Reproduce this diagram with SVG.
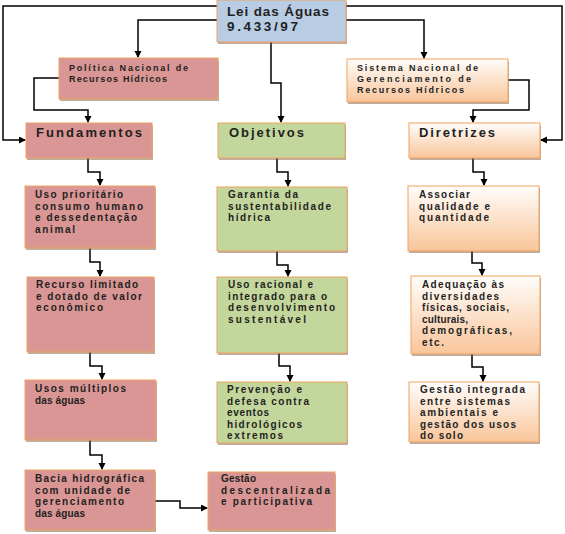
<svg xmlns="http://www.w3.org/2000/svg" width="565" height="534" viewBox="0 0 565 534">
<defs>
<linearGradient id="peach" x1="0" y1="0" x2="0" y2="1">
<stop offset="0" stop-color="#fffdfb"/>
<stop offset="1" stop-color="#f9c59a"/>
</linearGradient>
<marker id="ah" markerUnits="userSpaceOnUse" markerWidth="8" markerHeight="8" refX="6" refY="3.5" orient="auto">
<path d="M0,0 L7,3.5 L0,7 z" fill="#000"/>
</marker>
<style>
.box{stroke:#eea460;stroke-width:1}
.sh{fill:#7a5a4a;opacity:0.5}
.pink{fill:#d99694}
.green{fill:#c3d69b}
.blue{fill:#b8cce4}
.peach{fill:url(#peach)}
text{font-family:"Liberation Sans",Arial,sans-serif;font-weight:700;fill:#231f1f}
.t{font-size:10px}
.s{font-size:9px}
.h{font-size:13px}
.c path{fill:none;stroke:#000;stroke-width:1.5;marker-end:url(#ah)}
</style>
</defs>
<rect width="565" height="534" fill="#fff"/>

<g class="c" id="connectors">
<path d="M217,6 H3 V140 H25"/>
<path d="M217,20 H138 V57"/>
<path d="M59,78 H34 V110 H88 V122"/>
<path d="M271,42 V83 H281 V122"/>
<path d="M346,20 H424 V58"/>
<path d="M346,6 H562 V140 H541"/>
<path d="M508,80 H529 V110 H473 V122"/>
<path d="M88,158 V172 H100 V185"/>
<path d="M90,248 V262 H100 V276"/>
<path d="M90,352 V366 H102 V379"/>
<path d="M90,440 V455 H102 V469"/>
<path d="M155,501 H180 V508 H207"/>
<path d="M277,158 V172 H288 V186"/>
<path d="M277,251 V265 H288 V276"/>
<path d="M279,353 V366 H290 V381"/>
<path d="M473,158 V172 H484 V185"/>
<path d="M472,251 V263 H482 V275"/>
<path d="M472,354 V367 H483 V381"/>
</g>

<g id="lei">
<rect class="sh" x="218" y="2" width="129" height="42"/>
<rect class="box blue" x="217" y="0" width="129" height="42"/>
<text x="227" y="16" font-size="13.5" textLength="102" lengthAdjust="spacing">Lei das Águas</text>
<text x="227" y="31" font-size="13.5" textLength="71" lengthAdjust="spacing">9.433/97</text>
</g>

<g id="politica">
<rect class="sh" x="60" y="60" width="159" height="41"/>
<rect class="box pink" x="59" y="58" width="159" height="41"/>
<text class="s" x="69" y="71" textLength="119" lengthAdjust="spacing">Política Nacional de</text>
<text class="s" x="69" y="82" textLength="98" lengthAdjust="spacing">Recursos Hídricos</text>
</g>

<g id="sistema">
<rect class="sh" x="348" y="61" width="161" height="43"/>
<rect class="box peach" x="347" y="59" width="161" height="43"/>
<text class="s" x="357" y="71" textLength="121" lengthAdjust="spacing">Sistema Nacional de</text>
<text class="s" x="357" y="82" textLength="114" lengthAdjust="spacing">Gerenciamento de</text>
<text class="s" x="357" y="93" textLength="107" lengthAdjust="spacing">Recursos Hídricos</text>
</g>

<g id="fundamentos">
<rect class="sh" x="27" y="125" width="126" height="35"/>
<rect class="box pink" x="26" y="123" width="126" height="35"/>
<text class="h" x="36" y="137" textLength="106" lengthAdjust="spacing">Fundamentos</text>
</g>

<g id="objetivos">
<rect class="sh" x="219" y="125" width="127" height="35"/>
<rect class="box green" x="218" y="123" width="127" height="35"/>
<text class="h" x="229" y="137" textLength="75" lengthAdjust="spacing">Objetivos</text>
</g>

<g id="diretrizes">
<rect class="sh" x="410" y="125" width="131" height="35"/>
<rect class="box peach" x="409" y="123" width="131" height="35"/>
<text class="h" x="419" y="137" textLength="76" lengthAdjust="spacing">Diretrizes</text>
</g>

<g id="uso-prioritario">
<rect class="sh" x="26" y="188" width="130" height="62"/>
<rect class="box pink" x="25" y="186" width="130" height="62"/>
<text class="t" x="35" y="198" textLength="88" lengthAdjust="spacing">Uso prioritário</text>
<text class="t" x="35" y="209.5" textLength="108" lengthAdjust="spacing">consumo humano</text>
<text class="t" x="35" y="221" textLength="102" lengthAdjust="spacing">e dessedentação</text>
<text class="t" x="35" y="232.5" textLength="40" lengthAdjust="spacing">animal</text>
</g>

<g id="recurso-limitado">
<rect class="sh" x="28" y="279" width="127" height="75"/>
<rect class="box pink" x="27" y="277" width="127" height="75"/>
<text class="t" x="36" y="288" textLength="102" lengthAdjust="spacing">Recurso limitado</text>
<text class="t" x="36" y="299.5" textLength="106" lengthAdjust="spacing">e dotado de valor</text>
<text class="t" x="36" y="311" textLength="67" lengthAdjust="spacing">econômico</text>
</g>

<g id="usos-multiplos">
<rect class="sh" x="26" y="382" width="131" height="60"/>
<rect class="box pink" x="25" y="380" width="131" height="60"/>
<text class="t" x="35" y="392" textLength="91" lengthAdjust="spacing">Usos múltiplos</text>
<text class="t" x="35" y="403.5" textLength="50" lengthAdjust="spacing">das águas</text>
</g>

<g id="bacia">
<rect class="sh" x="26" y="472" width="130" height="60"/>
<rect class="box pink" x="25" y="470" width="130" height="60"/>
<text class="t" x="35" y="482" textLength="109" lengthAdjust="spacing">Bacia hidrográfica</text>
<text class="t" x="35" y="493.5" textLength="95" lengthAdjust="spacing">com unidade de</text>
<text class="t" x="35" y="505" textLength="89" lengthAdjust="spacing">gerenciamento</text>
<text class="t" x="35" y="516.5" textLength="50" lengthAdjust="spacing">das águas</text>
</g>

<g id="gestao-descentralizada">
<rect class="sh" x="209" y="474" width="127" height="58"/>
<rect class="box pink" x="208" y="472" width="127" height="58"/>
<text class="t" x="221" y="482" textLength="35" lengthAdjust="spacing">Gestão</text>
<text class="t" x="221" y="493.5" textLength="109" lengthAdjust="spacing">descentralizada</text>
<text class="t" x="221" y="505" textLength="91" lengthAdjust="spacing">e participativa</text>
</g>

<g id="garantia">
<rect class="sh" x="218" y="189" width="130" height="64"/>
<rect class="box green" x="217" y="187" width="130" height="64"/>
<text class="t" x="228" y="198" textLength="70" lengthAdjust="spacing">Garantia da</text>
<text class="t" x="228" y="209.5" textLength="103" lengthAdjust="spacing">sustentabilidade</text>
<text class="t" x="228" y="221" textLength="42" lengthAdjust="spacing">hídrica</text>
</g>

<g id="uso-racional">
<rect class="sh" x="218" y="279" width="130" height="76"/>
<rect class="box green" x="217" y="277" width="130" height="76"/>
<text class="t" x="228" y="288" textLength="85" lengthAdjust="spacing">Uso racional e</text>
<text class="t" x="228" y="299.5" textLength="99" lengthAdjust="spacing">integrado para o</text>
<text class="t" x="228" y="311" textLength="107" lengthAdjust="spacing">desenvolvimento</text>
<text class="t" x="228" y="322.5" textLength="78" lengthAdjust="spacing">sustentável</text>
</g>

<g id="prevencao">
<rect class="sh" x="218" y="384" width="130" height="61"/>
<rect class="box green" x="217" y="382" width="130" height="61"/>
<text class="t" x="227" y="393" textLength="75" lengthAdjust="spacing">Prevenção e</text>
<text class="t" x="227" y="404.5" textLength="82" lengthAdjust="spacing">defesa contra</text>
<text class="t" x="227" y="416" textLength="42" lengthAdjust="spacing">eventos</text>
<text class="t" x="227" y="427.5" textLength="75" lengthAdjust="spacing">hidrológicos</text>
<text class="t" x="227" y="439" textLength="56" lengthAdjust="spacing">extremos</text>
</g>

<g id="associar">
<rect class="sh" x="409" y="188" width="131" height="65"/>
<rect class="box peach" x="408" y="186" width="131" height="65"/>
<text class="t" x="419" y="198" textLength="51" lengthAdjust="spacing">Associar</text>
<text class="t" x="419" y="209.5" textLength="71" lengthAdjust="spacing">qualidade e</text>
<text class="t" x="419" y="221" textLength="70" lengthAdjust="spacing">quantidade</text>
</g>

<g id="adequacao">
<rect class="sh" x="412" y="278" width="129" height="78"/>
<rect class="box peach" x="411" y="276" width="129" height="78"/>
<text class="t" x="422" y="288" textLength="82" lengthAdjust="spacing">Adequação às</text>
<text class="t" x="422" y="299.5" textLength="77" lengthAdjust="spacing">diversidades</text>
<text class="t" x="422" y="311" textLength="87" lengthAdjust="spacing">físicas, sociais,</text>
<text class="t" x="422" y="322.5" textLength="46" lengthAdjust="spacing">culturais,</text>
<text class="t" x="422" y="334" textLength="90" lengthAdjust="spacing">demográficas,</text>
<text class="t" x="422" y="345.5" textLength="22" lengthAdjust="spacing">etc.</text>
</g>

<g id="gestao-integrada">
<rect class="sh" x="410" y="384" width="130" height="60"/>
<rect class="box peach" x="409" y="382" width="130" height="60"/>
<text class="t" x="420" y="393" textLength="105" lengthAdjust="spacing">Gestão integrada</text>
<text class="t" x="420" y="404.5" textLength="90" lengthAdjust="spacing">entre sistemas</text>
<text class="t" x="420" y="416" textLength="78" lengthAdjust="spacing">ambientais e</text>
<text class="t" x="420" y="427.5" textLength="96" lengthAdjust="spacing">gestão dos usos</text>
<text class="t" x="420" y="439" textLength="43" lengthAdjust="spacing">do solo</text>
</g>
</svg>
